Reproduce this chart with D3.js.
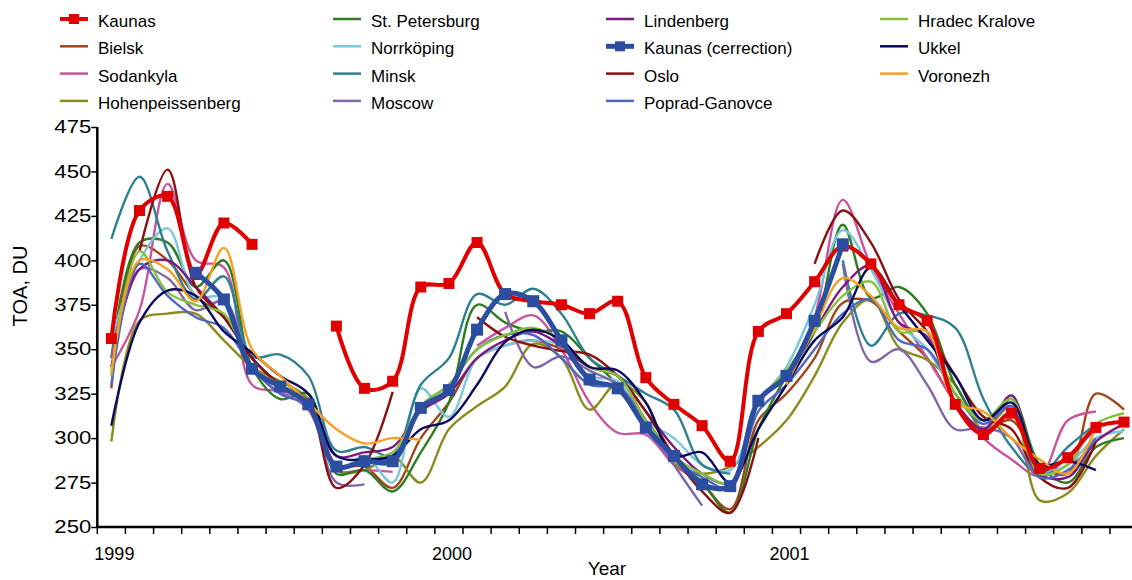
<!DOCTYPE html>
<html>
<head>
<meta charset="utf-8">
<script src="https://cdn.jsdelivr.net/npm/d3@7"></script>
<style>
  html, body { margin: 0; padding: 0; background: #fff; }
  svg { display: block; font-family: "Liberation Sans", Arial, sans-serif; }
</style>
</head>
<body>
<svg id="chart" width="1132" height="580"></svg>
<script>
// monthly categories, Jan 1999 .. Jan 2002
const months = [];
for (const yr of [1999, 2000, 2001]) {
  for (let m = 1; m <= 12; m++) months.push(`${yr}-${String(m).padStart(2, '0')}`);
}
months.push('2002-01');

const yearLabels = { '1999-01': '1999', '2000-01': '2000', '2001-01': '2001' };
const yTicks = [250, 275, 300, 325, 350, 375, 400, 425, 450, 475];

// total ozone, DU
const kaunas = [356,428,436,392,421,409,null,null,363,328,332,385,387,410,381,377,375,370,377,334,319,307,287,360,370,388,408,398,375,366,319,302,314,283,289,306,309];
const bielsk = [328,408,400,380,368,345,330,322,285,284,272,300,320,345,352,355,350,340,335,310,290,275,260,310,325,345,376,377,360,345,320,305,310,285,280,325,316];
const sodankyla = [340,372,443,400,396,330,326,316,282,282,281,null,null,352,362,369,350,320,303,302,285,275,null,null,330,368,434,397,370,345,320,300,288,279,310,315,null];
const hohenpeissenberg = [298,366,370,370,355,340,332,322,282,282,290,275,305,318,329,353,345,316,331,320,286,280,284,295,310,335,365,378,351,344,330,305,318,265,269,290,305];
const stPetersburg = [345,410,410,385,400,340,322,325,280,282,270,292,320,375,365,360,360,345,330,310,290,275,258,305,335,360,420,379,385,370,330,310,322,285,275,295,300];
const norrkoping = [355,400,418,380,379,340,330,320,282,290,275,328,312,345,352,355,352,335,332,310,300,285,282,320,340,375,417,395,365,350,325,310,318,282,285,300,304];
const minsk = [412,447,405,378,391,346,347,335,293,295,290,330,345,381,375,384,370,345,335,325,316,285,280,null,null,null,400,352,370,369,362,322,295,280,295,308,null];
const moscow = [345,395,390,372,377,340,325,318,275,274,null,null,null,null,371,340,346,338,330,310,285,262,null,null,null,null,398,343,350,330,305,306,300,278,290,305,null];
const lindenberg = [340,395,400,385,368,345,330,320,290,292,295,315,325,345,355,360,352,340,335,315,295,280,275,320,335,360,385,397,365,357,320,305,324,280,278,298,308];
const kaunasCorr = [null,null,null,393,378,339,329,319,284,287,287,317,327,361,381,377,355,333,328,306,290,274,273,321,335,366,409,null,null,null,null,null,null,null,null,null,null];
const oslo = [null,405,451,385,368,345,330,320,272,285,326,null,null,368,357,352,349,347,335,315,290,270,258,300,null,398,428,410,378,360,335,312,305,278,272,298,null];
const popradGanovce = [330,398,380,368,362,340,325,318,285,286,290,318,330,350,358,358,345,330,328,305,288,278,272,315,330,350,370,378,355,350,325,308,318,278,282,300,null];
const hradecKralove = [335,405,382,375,370,340,330,320,285,288,292,318,330,350,358,362,355,340,335,310,290,280,275,320,338,360,380,388,360,360,325,310,322,280,285,308,314];
const ukkel = [307,365,383,380,360,348,335,325,290,288,290,305,310,330,354,361,355,340,338,320,290,292,275,305,330,355,368,396,375,355,335,310,320,285,287,282,null];
const voronezh = [337,400,395,377,407,350,335,320,305,297,300,299,null,null,null,null,null,null,null,null,null,null,null,null,330,362,390,380,362,360,320,315,300,288,280,306,null];

// legend order (column by column)
const series = [
  { name: 'Kaunas', values: kaunas, color: '#e00000', width: 4, marker: 11 },
  { name: 'Bielsk', values: bielsk, color: '#a0461a', width: 2.4 },
  { name: 'Sodankyla', values: sodankyla, color: '#c8559e', width: 2.4 },
  { name: 'Hohenpeissenberg', values: hohenpeissenberg, color: '#8c8c1e', width: 2.4 },
  { name: 'St. Petersburg', values: stPetersburg, color: '#2e7d22', width: 2.4 },
  { name: 'Norrköping', values: norrkoping, color: '#7cc6de', width: 2.4 },
  { name: 'Minsk', values: minsk, color: '#2f8090', width: 2.4 },
  { name: 'Moscow', values: moscow, color: '#8068a8', width: 2.4 },
  { name: 'Lindenberg', values: lindenberg, color: '#7a1a80', width: 2.4 },
  { name: 'Kaunas (cerrection)', values: kaunasCorr, color: '#2b4ea0', width: 5, marker: 12 },
  { name: 'Oslo', values: oslo, color: '#8b1010', width: 2.4 },
  { name: 'Poprad-Ganovce', values: popradGanovce, color: '#5068c0', width: 2.4 },
  { name: 'Hradec Kralove', values: hradecKralove, color: '#84c23c', width: 2.4 },
  { name: 'Ukkel', values: ukkel, color: '#0a0a60', width: 2.4 },
  { name: 'Voronezh', values: voronezh, color: '#f5a023', width: 2.4 }
];

const svg = d3.select('#chart');
const plotLeft = 97.3, plotBottom = 527, plotTop = 127;
const step = 28.13;

const x = d3.scaleBand()
  .domain(months)
  .range([plotLeft, plotLeft + months.length * step])
  .padding(0);
const cx = m => x(m) + x.bandwidth() / 2;

const y = d3.scaleLinear()
  .domain([250, 475])
  .range([plotBottom, plotTop]);

// x axis
const xAxis = svg.append('g')
  .attr('transform', `translate(0,${plotBottom})`)
  .call(d3.axisBottom(x)
    .tickSize(7)
    .tickPadding(13)
    .tickFormat(m => yearLabels[m] || ''));
xAxis.select('.domain').remove();
xAxis.selectAll('.tick line')
  .attr('x1', -x.bandwidth() / 2).attr('x2', -x.bandwidth() / 2)
  .attr('stroke', '#000').attr('stroke-width', 1.5);
xAxis.selectAll('.tick text')
  .attr('font-size', 18).attr('font-family', '"Liberation Sans", Arial, sans-serif')
  .attr('fill', '#000').attr('dx', 3);
xAxis.append('line')
  .attr('x1', plotLeft).attr('x2', 1132)
  .attr('stroke', '#000').attr('stroke-width', 2.5);

// y axis
const yAxis = svg.append('g')
  .attr('transform', `translate(${plotLeft},0)`)
  .call(d3.axisLeft(y).tickValues(yTicks).tickSize(6).tickPadding(0));
yAxis.select('.domain').attr('stroke-width', 2.5).attr('d', `M0,${plotBottom}V${plotTop}`);
yAxis.selectAll('.tick line').attr('stroke-width', 1.5);
yAxis.selectAll('.tick text')
  .attr('font-size', 18).attr('font-family', '"Liberation Sans", Arial, sans-serif')
  .attr('fill', '#000')
  .attr('textLength', 37).attr('lengthAdjust', 'spacingAndGlyphs');

svg.append('text')
  .attr('transform', 'translate(22,286) rotate(-90)')
  .attr('text-anchor', 'middle').attr('dominant-baseline', 'middle')
  .attr('font-size', 20)
  .text('TOA, DU');

svg.append('text')
  .attr('x', 607).attr('y', 575)
  .attr('text-anchor', 'middle')
  .attr('font-size', 19)
  .text('Year');

// lines
const line = d3.line()
  .defined(d => d.v != null)
  .x(d => cx(d.m))
  .y(d => y(d.v))
  .curve(d3.curveCatmullRom.alpha(0.5));

const plot = svg.append('g');
const thin = series.filter(s => !s.marker);
const thick = series.filter(s => s.marker);

thin.concat(thick).forEach(s => {
  const pts = s.values.map((v, i) => ({ m: months[i], v }));
  plot.append('path')
    .datum(pts)
    .attr('fill', 'none')
    .attr('stroke', s.color)
    .attr('stroke-width', s.width)
    .attr('stroke-linejoin', 'round')
    .attr('d', line);
  if (s.marker) {
    plot.selectAll(null)
      .data(pts.filter(d => d.v != null))
      .enter().append('rect')
      .attr('x', d => cx(d.m) - s.marker / 2)
      .attr('y', d => y(d.v) - s.marker / 2)
      .attr('width', s.marker)
      .attr('height', s.marker)
      .attr('fill', s.color);
  }
});

// legend
const colX = [60, 333, 606, 880];
const legend = svg.append('g');
series.forEach((s, i) => {
  const col = Math.floor(i / 4), row = i % 4;
  const gx = colX[col], gy = 19 + row * 27.3;
  const g = legend.append('g').attr('transform', `translate(${gx},${gy})`);
  g.append('line')
    .attr('x1', 0).attr('x2', 28)
    .attr('stroke', s.color)
    .attr('stroke-width', s.marker ? s.width : 2.5);
  if (s.marker) {
    g.append('rect')
      .attr('x', 9).attr('y', -5)
      .attr('width', 10).attr('height', 10)
      .attr('fill', s.color);
  }
  g.append('text')
    .attr('x', 38).attr('y', 8)
    .attr('font-size', 17)
    .attr('fill', '#000')
    .text(s.name);
});
</script>
</body>
</html>
